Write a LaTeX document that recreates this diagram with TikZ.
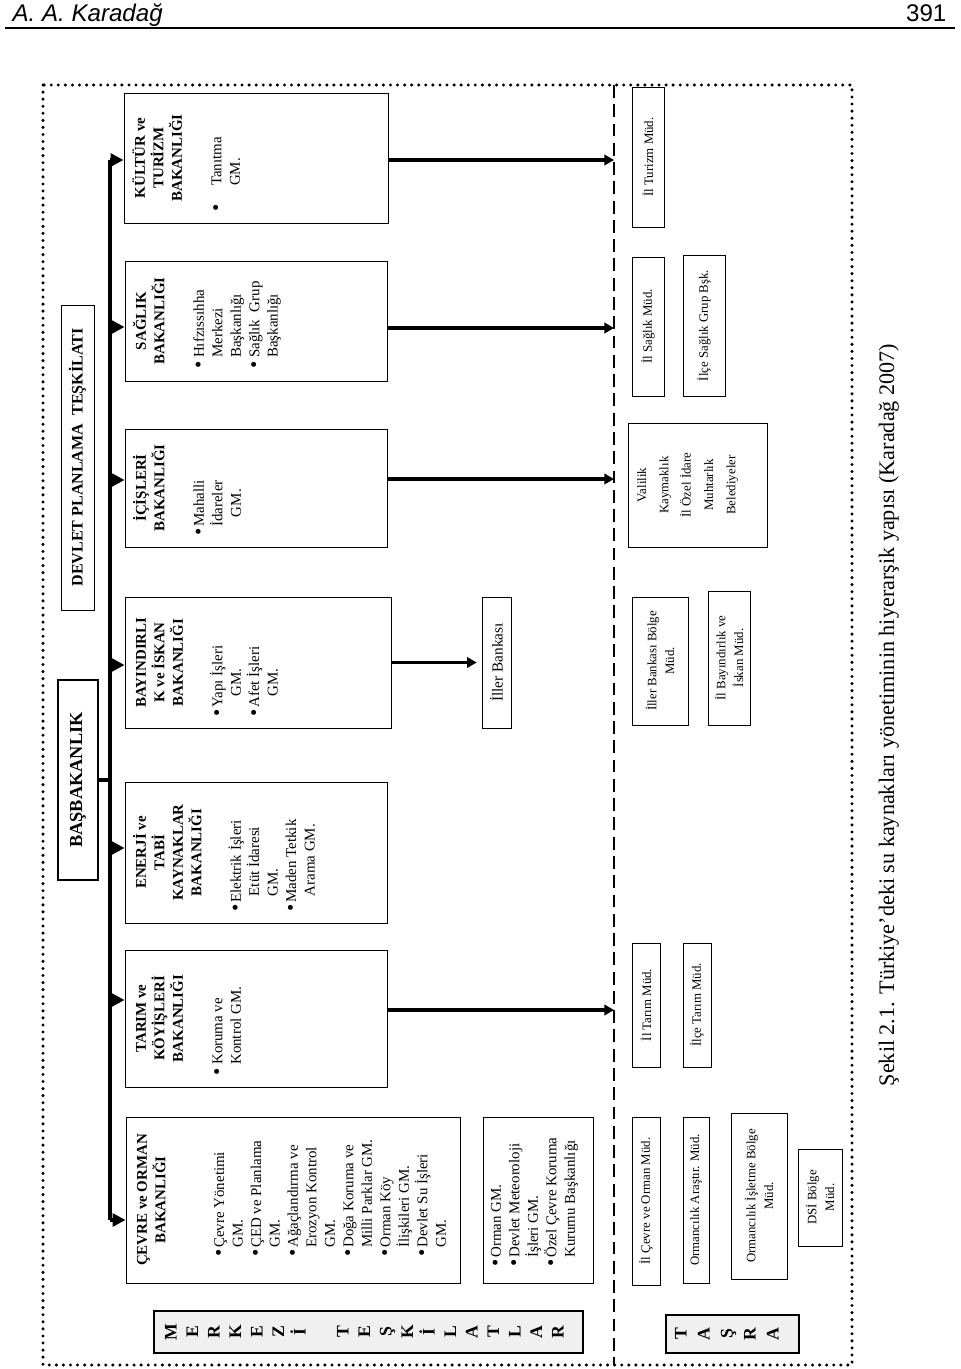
\documentclass[tikz,border=0pt]{standalone}
\usepackage{fontspec}
\setmainfont{Liberation Serif}
\newfontfamily\ustfont{Liberation Sans}
\usetikzlibrary{arrows.meta}

% one pixel of the page
\newlength{\pik}
\setlength{\pik}{0.021875cm}
% box contents, read with the page turned
\newcommand{\kutuici}[3]{\begin{minipage}[c][#2\pik][t]{#1\pik}#3\end{minipage}}
\newcommand{\ortayazi}[3]{\begin{minipage}[c][#2\pik][c]{#1\pik}\centering #3\end{minipage}}
\newcommand{\baslik}[1]{{\centering\bfseries\begin{tabular}[t]{@{}c@{}}#1\end{tabular}\par}}
\newcommand{\liste}[3]{\begin{tabular}[t]{@{\hspace*{#1}}l@{\hspace{#2}}l@{}}#3\end{tabular}}
\newcommand{\madde}{\raisebox{-0.8pt}{\fontsize{13}{11.5}\selectfont\textbullet}}

\begin{document}
\begin{tikzpicture}[x=0.021875cm, y=-0.021875cm,
  kutu/.style={draw, line width=0.6pt, rotate=90, inner sep=0pt, font=\fontsize{9.3}{11.5}\selectfont},
  tasra/.style={kutu, font=\fontsize{8}{11}\selectfont},
  gri/.style={draw, line width=0.8pt, fill=gray!12},
  harf/.style={rotate=90, inner sep=0pt, anchor=mid, font=\fontsize{11}{13}\selectfont\bfseries},
  hat/.style={line width=2.5pt},
  busok/.style={hat, -{Triangle[length=8pt,width=8pt]}},
  ok/.style={line width=2pt, -{Triangle[length=6pt,width=6.5pt]}},
  noktali/.style={line width=2.1pt, line cap=round, dash pattern=on 0pt off 4.4pt},
  kesikli/.style={line width=1.6pt, dash pattern=on 8pt off 4pt},
]
\useasboundingbox (0,0) rectangle (960,1369);

% page head
\node[anchor=base west, font=\ustfont\itshape\fontsize{15}{18}\selectfont] (yazar) at (7,21) {A. A. Karadağ};
\node[anchor=base east, font=\ustfont\fontsize{15}{18}\selectfont] (sayfa) at (952,21) {391};
\draw[line width=0.7pt] (5,28) -- (955,28);

% frame and the line between centre and province
\draw[noktali] (43,85) rectangle (852,1365);
\draw[kesikli] (614,85) -- (614,1365);

% top
\node[kutu, line width=1.5pt] (basbakanlik) at (78,780) {\ortayazi{200}{40}{\fontsize{11.4}{13}\selectfont\bfseries BAŞBAKANLIK}};
\node[kutu] (dpt) at (77.5,457.5) {\ortayazi{305}{33}{\fontsize{10}{12}\selectfont\bfseries DEVLET PLANLAMA\ \ TEŞKİLATI}};

% ministries
\node[kutu] (kultur) at (256,158) {\kutuici{130}{264}{\vspace*{5pt}\baslik{KÜLTÜR ve\\TURİZM\\BAKANLIĞI}\vspace{12pt}%
  \liste{7pt}{11.5pt}{\madde & Tanıtma\\ & GM.}}};
\node[kutu] (saglik) at (256,321) {\kutuici{120}{262}{\vspace*{5pt}\baslik{SAĞLIK\\BAKANLIĞI}\vspace{12pt}%
  \liste{7.7pt}{2.2pt}{\madde & Hıfzıssıhha\\ & Merkezi\\ & Başkanlığı\\ \madde & Sağlık\ \ Grup\\ & Başkanlığı}}};
\node[kutu] (icisleri) at (256,488) {\kutuici{118}{262}{\vspace*{5pt}\baslik{İÇİŞLERİ\\BAKANLIĞI}\vspace{12pt}%
  \liste{7.1pt}{1pt}{\madde & Mahalli\\ & İdareler\\ & \hspace{6pt}GM.}}};
\node[kutu] (bayindirlik) at (258,662.5) {\kutuici{131}{266}{\vspace*{5pt}\baslik{BAYINDIRLI\\K ve İSKAN\\BAKANLIĞI}\vspace{12pt}%
  \liste{7.1pt}{1pt}{\madde & Yapı İşleri\\ & \hspace{7pt}GM.\\ \madde & Afet İşleri\\ & \hspace{7pt}GM.}}};
\node[kutu] (enerji) at (256,852.5) {\kutuici{141}{262}{\vspace*{5pt}\baslik{ENERJİ ve\\TABİ\\KAYNAKLAR\\BAKANLIĞI}\vspace{12pt}%
  \liste{7.1pt}{1pt}{\madde & Elektrik İşleri\\ & \hspace{4pt}Etüt İdaresi\\ & \hspace{4pt}GM.\\ \madde & Maden Tetkik\\ & \hspace{4pt}Arama GM.}}};
\node[kutu] (tarim) at (256,1018.5) {\kutuici{137}{262}{\vspace*{5pt}\baslik{TARIM ve\\KÖYİŞLERİ\\BAKANLIĞI}\vspace{12pt}%
  \liste{7.1pt}{2.2pt}{\madde & Koruma ve\\ & Kontrol GM.}}};
\node[kutu] (cevre) at (293,1200) {\kutuici{166}{334}{\vspace*{5pt}\baslik{ÇEVRE ve ORMAN\\BAKANLIĞI}\vspace{24pt}%
  \liste{16.4pt}{1pt}{\madde & Çevre Yönetimi\\ & GM.\\ \madde & ÇED ve Planlama\\ & GM.\\
    \madde & Ağaçlandırma ve\\ & Erozyon Kontrol\\ & GM.\\ \madde & Doğa Koruma ve\\ & Milli Parklar GM.\\
    \madde & Orman Köy\\ & İlişkileri GM.\\ \madde & Devlet Su İşleri\\ & GM.}}};
\node[kutu] (kurumlar) at (538,1200) {\kutuici{166}{110}{\vspace*{3.1pt}%
  \liste{10.2pt}{1pt}{\madde & Orman GM.\\ \madde & Devlet Meteoroloji\\ & İşleri GM.\\ \madde & Özel Çevre Koruma\\ & Kurumu Başkanlığı}}};
\node[kutu] (banka) at (496.5,662.5) {\ortayazi{131}{29}{\fontsize{9.5}{11}\selectfont İller Bankası}};

% province
\node[tasra] (ilturizm) at (648,157) {\ortayazi{140}{32}{İl Turizm Müd.}};
\node[tasra] (ilsaglik) at (648,326.5) {\ortayazi{139}{32}{İl Sağlık Müd.}};
\node[tasra] (ilcesaglik) at (704,325.5) {\ortayazi{141}{42}{İlçe Sağlık Grup Bşk.}};
\node[tasra] (valilik) at (697.5,485) {\kutuici{124}{139}{\vspace*{5.7pt}\centering\fontsize{8}{13.9}\selectfont
  Valilik\\Kaymaklık\\İl Özel İdare\\Muhtarlık\\Belediyeler}};
\node[tasra] (bankabolge) at (660,661) {\ortayazi{128}{56}{İller Bankası Bölge\\Müd.}};
\node[tasra] (ilbayindirlik) at (729,658) {\ortayazi{134}{42}{İl Bayındırlık ve\\İskan Müd.}};
\node[tasra] (iltarim) at (646,1005) {\ortayazi{124}{28}{İl Tarım Müd.}};
\node[tasra] (ilcetarim) at (697,1005) {\ortayazi{124}{28}{İlçe Tarım Müd.}};
\node[tasra] (ilcevre) at (646,1201) {\ortayazi{168}{28}{İl Çevre ve Orman Müd.}};
\node[tasra] (ormanarastirma) at (696,1200) {\ortayazi{166}{26}{Ormancılık Araştır. Müd.}};
\node[tasra] (ormanisletme) at (759,1196) {\ortayazi{166}{56}{Ormancılık İşletme Bölge\\Müd.}};
\node[tasra] (dsi) at (820,1197.5) {\ortayazi{97}{44}{DSİ Bölge\\Müd.}};

% grey labels
\draw[gri] (154,1311) rectangle (583,1353);
\foreach \h [count=\i from 0] in {M,E,R,K,E,Z,İ}
  \node[harf] (mh\i) at (173+21.5*\i,1332) {\h};
\foreach \h [count=\i from 0] in {T,E,Ş,K,İ,L,A,T,L,A,R}
  \node[harf] (th\i) at (345+21.5*\i,1332) {\h};
\draw[gri] (666,1315) rectangle (799,1353);
\foreach \h [count=\i from 0] in {T,A,Ş,R,A}
  \node[harf] (ta\i) at (683+23*\i,1334) {\h};

% bus
\coordinate (b1) at (110,160);
\coordinate (b2) at (110,327);
\coordinate (b3) at (110,480);
\coordinate (b4) at (110,665);
\coordinate (b5) at (110,848);
\coordinate (b6) at (110,1000);
\coordinate (b7) at (110,1220);
\draw[hat] (b1) -- (b7);
\draw[hat] (basbakanlik.south) -- (basbakanlik.south -| b1);
\foreach \k/\b in {kultur/b1,saglik/b2,icisleri/b3,bayindirlik/b4,enerji/b5,tarim/b6,cevre/b7}
  \draw[busok] (\b) -- (\b -| \k.north);

% to the province
\coordinate (d1) at (614,160);
\coordinate (d2) at (614,328);
\coordinate (d3) at (614,479);
\coordinate (d6) at (614,1010);
\foreach \k/\d in {kultur/d1,saglik/d2,icisleri/d3,tarim/d6}
  \draw[ok] (\k.south |- \d) -- (\d);
\draw[ok, shorten >=3pt] (bayindirlik.south) -- (banka.north);

% caption
\node[rotate=90, anchor=base, font=\fontsize{13.8}{16}\selectfont] (sekil) at (894,715)
  {Şekil 2.1. Türkiye’deki su kaynakları yönetiminin hiyerarşik yapısı (Karadağ 2007)};
\end{tikzpicture}
\end{document}
